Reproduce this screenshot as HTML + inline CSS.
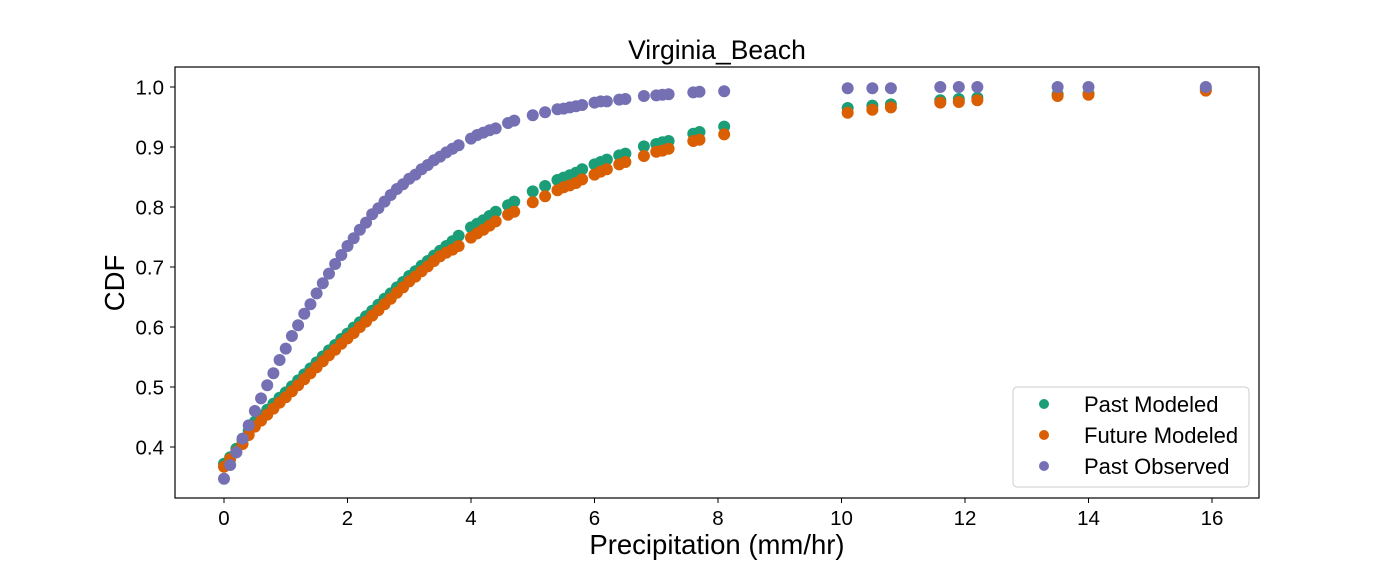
<!DOCTYPE html>
<html><head><meta charset="utf-8"><style>
body{margin:0;background:#fff;}
svg text{font-family:"Liberation Sans",Arial,sans-serif;fill:#000;}
</style></head><body>
<svg id="chart" width="1400" height="560" xmlns="http://www.w3.org/2000/svg">
<rect width="1400" height="560" fill="#fff"/>
<text x="717" y="59" font-size="26.5" text-anchor="middle">Virginia_Beach</text>
<g id="marks"></g>
<g id="axes"></g>
<rect x="175" y="67" width="1084" height="431" fill="none" stroke="#000" stroke-width="1.2"/>
<text x="717" y="554" font-size="27.5" text-anchor="middle">Precipitation (mm/hr)</text>
<text transform="translate(124,283) rotate(-90)" font-size="27.5" text-anchor="middle">CDF</text>
<g>
<rect x="1013" y="387" width="236" height="100" rx="4" fill="#fff" stroke="#ccc" stroke-width="1"/>
<g><circle cx="1044" cy="404" r="5" fill="#1b9e77"/><text x="1084" y="412" font-size="22">Past Modeled</text></g>
<g><circle cx="1044" cy="435" r="5" fill="#d95f02"/><text x="1084" y="443" font-size="22">Future Modeled</text></g>
<g><circle cx="1044" cy="466" r="5" fill="#7570b3"/><text x="1084" y="474" font-size="22">Past Observed</text></g>
</g>
</svg>
<script>
const xValues=[0,0.1,0.2,0.3,0.4,0.5,0.6,0.7,0.8,0.9,1.0,1.1,1.2,1.3,1.4,1.5,1.6,1.7,1.8,1.9,2.0,2.1,2.2,2.3,2.4,2.5,2.6,2.7,2.8,2.9,3.0,3.1,3.2,3.3,3.4,3.5,3.6,3.7,3.8,
4.0,4.1,4.2,4.3,4.4,4.6,4.7,5.0,5.2,5.4,5.5,5.6,5.7,5.8,6.0,6.1,6.2,6.4,6.5,6.8,7.0,7.1,7.2,7.6,7.7,8.1,10.1,10.5,10.8,11.6,11.9,12.2,13.5,14.0,15.9];
const pastModeled=[.372,.383,.397,.411,.427,.442,.452,.462,.472,.482,.491,.501,.511,.521,.531,.541,.551,.561,.570,.580,.589,.599,.608,.618,.627,.637,.647,.656,.666,.675,.685,.693,.702,.710,.719,.727,.735,.743,.752,
.766,.772,.778,.785,.792,.803,.809,.826,.835,.845,.849,.853,.857,.863,.871,.875,.879,.886,.889,.901,.905,.908,.910,.922,.925,.934,.965,.969,.971,.978,.980,.982,.988,.989,.997];
const futureModeled=[.367,.380,.392,.405,.420,.434,.444,.454,.464,.474,.483,.493,.503,.513,.523,.533,.543,.553,.562,.572,.581,.590,.600,.609,.619,.628,.638,.647,.657,.666,.676,.684,.693,.701,.710,.718,.724,.729,.735,
.749,.756,.762,.769,.776,.787,.792,.808,.818,.828,.833,.836,.840,.846,.854,.859,.863,.871,.875,.885,.892,.894,.897,.910,.912,.921,.957,.962,.966,.974,.975,.978,.985,.987,.994];
const pastObserved=[.347,.370,.391,.414,.436,.460,.481,.503,.523,.545,.564,.585,.603,.622,.638,.656,.673,.689,.705,.720,.735,.748,.762,.774,.788,.798,.809,.820,.830,.838,.847,.854,.863,.870,.878,.884,.891,.897,.903,
.914,.920,.924,.928,.931,.940,.944,.953,.958,.963,.964,.966,.968,.970,.974,.976,.976,.979,.980,.985,.986,.987,.988,.991,.992,.993,.998,.998,.998,1,1,1,1,1,1];
const xTicks=[0,2,4,6,8,10,12,14,16];
const yTicks=[0.4,0.5,0.6,0.7,0.8,0.9,1.0];
const seriesNames=['past-modeled','future-modeled','past-observed'];
const seriesColors=['#1b9e77','#d95f02','#7570b3'];
const NS='http://www.w3.org/2000/svg';
function xs(v){return 224+61.75*v;}
function ys(v){return 87+(1-v)*600;}
const marks=document.getElementById('marks');
[pastModeled,futureModeled,pastObserved].forEach((ser,si)=>{
  const g=document.createElementNS(NS,'g');
  
  
  ser.forEach((v,i)=>{
    const c=document.createElementNS(NS,'circle');
    c.setAttribute('cx',xs(xValues[i]));c.setAttribute('cy',ys(v));c.setAttribute('r',6);
    c.setAttribute('fill',seriesColors[si]);
    
    
    g.appendChild(c);
  });
  marks.appendChild(g);
});
const axes=document.getElementById('axes');
xTicks.forEach(t=>{
  const l=document.createElementNS(NS,'line');
  l.setAttribute('x1',xs(t));l.setAttribute('x2',xs(t));l.setAttribute('y1',498);l.setAttribute('y2',503);l.setAttribute('stroke','#000');
  
  
  axes.appendChild(l);
  const tx=document.createElementNS(NS,'text');
  tx.setAttribute('x',xs(t));tx.setAttribute('y',525);tx.setAttribute('font-size','20.5');tx.setAttribute('text-anchor','middle');
  tx.textContent=t;
  
  
  axes.appendChild(tx);
});
yTicks.forEach(t=>{
  const l=document.createElementNS(NS,'line');
  l.setAttribute('x1',170);l.setAttribute('x2',175);l.setAttribute('y1',ys(t));l.setAttribute('y2',ys(t));l.setAttribute('stroke','#000');
  
  
  axes.appendChild(l);
  const tx=document.createElementNS(NS,'text');
  tx.setAttribute('x',164);tx.setAttribute('y',ys(t)+7.5);tx.setAttribute('font-size','20.5');tx.setAttribute('text-anchor','end');
  tx.textContent=t.toFixed(1);
  
  
  axes.appendChild(tx);
});
</script>
</body></html>
